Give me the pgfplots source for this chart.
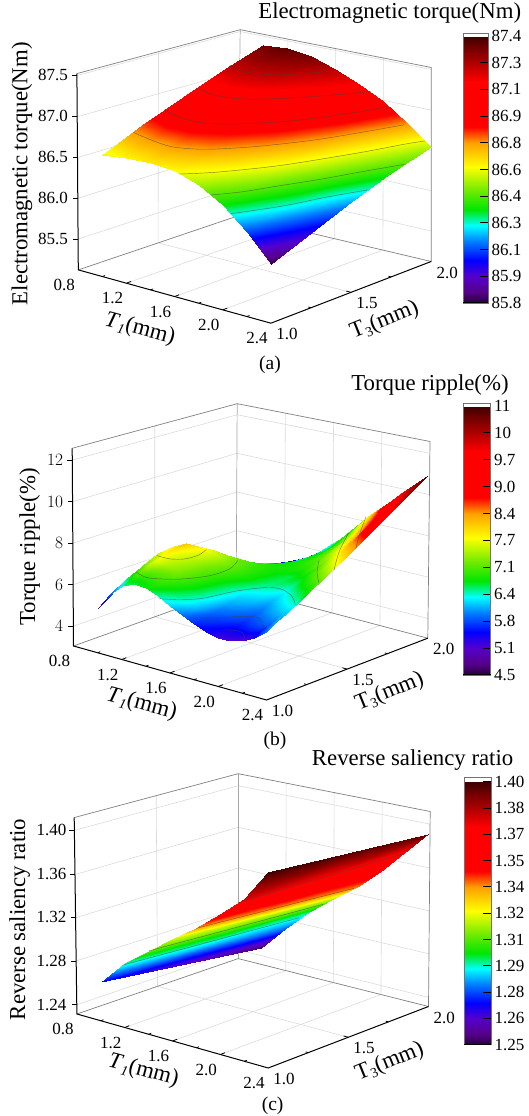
\documentclass[border=0pt]{standalone}
\usepackage{fontspec}
\setmainfont{Liberation Serif}
\usepackage{pgfplots}
\pgfplotsset{compat=1.18}
\usetikzlibrary{calc}
\pgfplotsset{
  colormap={spec}{rgb255(0pt)=(35,0,60); rgb255(4pt)=(85,0,135); rgb255(10pt)=(85,0,205); rgb255(16pt)=(0,0,255); rgb255(23pt)=(0,125,255); rgb255(29pt)=(0,255,255); rgb255(35pt)=(0,230,0); rgb255(42pt)=(110,235,0); rgb255(51pt)=(255,255,0); rgb255(60pt)=(255,160,0); rgb255(66pt)=(255,0,0); rgb255(83pt)=(255,0,0); rgb255(90pt)=(175,0,0); rgb255(96pt)=(110,0,0); rgb255(100pt)=(60,0,0)},
  surfaxis/.style={
    colormap name=spec, axis line style={draw=none}, grid=none, clip=false,
    xmin=0.8,xmax=2.4,ymin=1,ymax=2,
    xtick={0.8,1.2,1.6,2.0,2.4}, xticklabels={0.8,1.2,1.6,2.0,2.4},
    ytick={1,1.5,2}, yticklabels={1.0,1.5,2.0},
    tick label style={font=\fontsize{17}{17}\selectfont},
    major tick length=0pt, minor tick length=0pt,
    tick style={draw=none},
    x tick label style={anchor=center,xshift=-14pt,yshift=-15pt},
    y tick label style={anchor=center,xshift=16pt,yshift=-11pt},
    z tick label style={anchor=east,xshift=-7pt},
  },
  baraxis/.style={
    colormap name=spec, scale only axis, view={0}{90},
    xmin=0,xmax=1,xtick=\empty, axis line style={draw=none},
    ytick pos=right, yticklabel pos=right, tick align=inside,
    major tick length=8pt, tick style={black,line width=0.8pt},
    tick label style={font=\fontsize{17}{17}\selectfont},
  },
  contourline/.style={draw=black!75,opacity=0.65,line width=0.45pt,smooth,tension=0.5,no markers},
}
\newcommand{\tone}{\textit{T}\raisebox{-4pt}{\fontsize{14}{14}\selectfont\itshape 1}(mm)}
\newcommand{\tthree}{T\raisebox{-4pt}{\fontsize{14}{14}\selectfont 3}(mm)}
\newcommand{\bigfont}{\fontsize{22.8}{23}\selectfont}
% walls: L B R F TL TB TR, z fractions
\newcommand{\walls}[8]{%
  \coordinate (L) at #1; \coordinate (B) at #2; \coordinate (R) at #3; \coordinate (F) at #4;
  \coordinate (TL) at #5; \coordinate (TB) at #6; \coordinate (TR) at #7;
  \foreach \t in {#8} {
    \draw[black!14,line width=0.6pt] ($(L)!\t!(TL)$) -- ($(B)!\t!(TB)$) -- ($(R)!\t!(TR)$);
    \draw[black,line width=0.8pt] ($(L)!\t!(TL)$) -- ++(-5,0);
  }
  \draw[black!14,line width=0.6pt] ($(L)!.5!(B)$) -- ($(TL)!.5!(TB)$);
  \foreach \u in {.25,.5,.75} {
    \draw[black!14,line width=0.6pt] ($(B)!\u!(R)$) -- ($(TB)!\u!(TR)$);
    \draw[black!14,line width=0.6pt] ($(L)!\u!(F)$) -- ($(B)!\u!(R)$);
  }
  \draw[black!14,line width=0.6pt] ($(L)!.5!(B)$) -- ($(F)!.5!(R)$);
  \draw[black!35,line width=0.7pt] (B) -- (TB);
  \draw[black!50,line width=0.7pt] (L) -- (B) -- (R) -- (TR) -- (TB) -- (TL);
  \draw[black,line width=1pt] (TL) -- (L) -- (F) -- (R);
  \foreach \u in {.25,.5,.75} { \draw[black,line width=0.8pt] ($(L)!\u!(F)$) -- ++(4.6,-1.8); }
  \foreach \u in {.125,.375,.625,.875} { \draw[black,line width=0.8pt] ($(L)!\u!(F)$) -- ++(2.6,-1); }
  \draw[black,line width=0.8pt] ($(F)!.5!(R)$) -- ++(-4.8,-1.3);
  \foreach \u in {.25,.75} { \draw[black,line width=0.8pt] ($(F)!\u!(R)$) -- ++(-2.7,-.75); }
}
\newcommand{\barframe}[4]{% x0 x1 ytop ybot
  \fill[white] (#1,#3) rectangle (#2,#3+4);
  \draw[black!55,line width=0.8pt] (#1,#3) rectangle (#2,#4);
  \draw[black,line width=1pt] (#1,#4) -- (#2,#4);
}
\begin{document}
\begin{tikzpicture}
\useasboundingbox (0,0) rectangle (529pt,1116pt);
\begin{scope}[x=1pt,y=-1pt,shift={(0pt,1116pt)}]
  \walls{(78.3,269.9)}{(237.9,215.9)}{(431.2,261.5)}{(270.9,323.2)}{(76.9,73.6)}{(240.2,29.7)}{(431.2,67.5)}{0.157,0.365,0.572,0.78,0.99}
  \walls{(73.5,646)}{(236.2,587.6)}{(427.8,638.2)}{(266.5,700)}{(72.2,448.3)}{(237.2,403.7)}{(430,441.5)}{0.1,0.31,0.52,0.73,0.94}
  \walls{(76.9,1014)}{(238.2,958.6)}{(428.5,1006.5)}{(268.2,1068)}{(74.2,817.6)}{(238.2,773.7)}{(430.2,811.5)}{0.047,0.27,0.49,0.71,0.935}
\end{scope}

% ---------- (a)
\begin{axis}[surfaxis, at={(78.3pt,846.1pt)}, anchor=origin,
  x={(120.4pt,-33.3pt)}, y={(160.3pt,61.7pt)}, z={(0pt,82pt)},
  zmin=85.12,zmax=87.52, ztick={85.5,86,86.5,87,87.5}, zticklabels={85.5,86.0,86.5,87.0,87.5},
  point meta min=85.8, point meta max=87.4]
\addplot3[surf,shader=interp,mesh/cols=8,point meta=explicit] table[x=x,y=y,z=z,meta=c] {
x y z c
1.0 1.00 86.60 86.59
1.2 1.00 86.65 86.63
1.4 1.00 86.67 86.65
1.6 1.00 86.65 86.62
1.8 1.00 86.56 86.52
2.0 1.00 86.40 86.36
2.2 1.00 86.15 86.12
2.4 1.00 85.84 85.81
1.0 1.25 86.78 86.81
1.2 1.25 86.83 86.85
1.4 1.25 86.84 86.85
1.6 1.25 86.80 86.80
1.8 1.25 86.70 86.69
2.0 1.25 86.55 86.53
2.2 1.25 86.32 86.30
2.4 1.25 86.03 86.01
1.0 1.50 86.93 87.01
1.2 1.50 86.97 87.04
1.4 1.50 86.98 87.03
1.6 1.50 86.93 86.96
1.8 1.50 86.83 86.85
2.0 1.50 86.68 86.69
2.2 1.50 86.48 86.47
2.4 1.50 86.22 86.20
1.0 1.75 87.08 87.19
1.2 1.75 87.13 87.22
1.4 1.75 87.12 87.19
1.6 1.75 87.05 87.11
1.8 1.75 86.96 87.01
2.0 1.75 86.81 86.84
2.2 1.75 86.62 86.63
2.4 1.75 86.39 86.39
1.0 2.00 87.19 87.33
1.2 2.00 87.23 87.36
1.4 2.00 87.22 87.32
1.6 2.00 87.14 87.23
1.8 2.00 87.04 87.13
2.0 2.00 86.91 86.97
2.2 2.00 86.73 86.77
2.4 2.00 86.52 86.54
};
\addplot3[contourline] coordinates {(2.067,1,86.32)(2.2,1.222,86.30)(2.3,1.42,86.30)(2.4,1.605,86.29)};
\addplot3[contourline] coordinates {(1.9,1,86.48)(2.0,1.118,86.47)(2.1,1.288,86.46)(2.2,1.455,86.45)(2.3,1.65,86.44)(2.4,1.833,86.43)};
\addplot3[contourline] coordinates {(1.64,1,86.63)(1.8,1.118,86.63)(2.0,1.36,86.61)(2.2,1.70,86.59)(2.3,1.905,86.58)(2.35,2,86.57)};
\addplot3[contourline] coordinates {(1.0,1.19,86.74)(1.2,1.148,86.76)(1.4,1.138,86.76)(1.6,1.194,86.77)(1.8,1.36,86.76)(2.0,1.617,86.74)(2.2,1.98,86.72)};
\addplot3[contourline] coordinates {(1.0,1.387,86.86)(1.2,1.342,86.88)(1.4,1.347,86.89)(1.6,1.437,86.90)(1.8,1.61,86.89)(2.0,1.905,86.87)(2.04,2,86.87)};
\addplot3[contourline] coordinates {(1.0,1.587,86.98)(1.2,1.55,87.00)(1.4,1.57,87.02)(1.6,1.687,87.02)(1.8,1.885,87.00)(1.9,2,86.99)};
\addplot3[contourline] coordinates {(1.0,1.795,87.10)(1.2,1.75,87.13)(1.4,1.8,87.14)(1.6,1.98,87.13)};
\end{axis}
\begin{axis}[baraxis, at={(463.3pt,813pt)}, anchor=south west, width=24.7pt, height=267pt,
  ymin=85.8,ymax=87.4, point meta min=85.8, point meta max=87.4,
  ytick={85.8,85.96,86.12,86.28,86.44,86.6,86.76,86.92,87.08,87.24,87.4},
  yticklabels={85.8,85.9,86.1,86.3,86.4,86.6,86.8,86.9,87.1,87.3,87.4}]
\addplot3[surf,shader=interp,mesh/cols=2,point meta=explicit] table[x=x,y=y,z=z,meta=c] {
x y z c
0 85.8 0 85.8
1 85.8 0 85.8
0 87.4 0 87.4
1 87.4 0 87.4
};
\end{axis}

% ---------- (b)
\begin{axis}[surfaxis, at={(73.5pt,470pt)}, anchor=origin,
  x={(120.6pt,-33.75pt)}, y={(161.3pt,61.8pt)}, z={(0pt,20.75pt)},
  zmin=3.055,zmax=12.58, ztick={4,6,8,10,12},
  point meta min=4.5, point meta max=11]
\addplot3[surf,shader=interp,mesh/cols=15,point meta=explicit] table[x=x,y=y,z=z,meta=c] {
x y z c
1.0 1.0 5.22 5.20
1.1 1.0 6.05 5.88
1.2 1.0 6.60 6.55
1.3 1.0 6.84 6.68
1.4 1.0 6.84 6.80
1.5 1.0 6.60 6.53
1.6 1.0 6.27 6.25
1.7 1.0 6.00 5.95
1.8 1.0 5.75 5.65
1.9 1.0 5.54 5.45
2.0 1.0 5.41 5.25
2.1 1.0 5.43 5.15
2.2 1.0 5.58 5.05
2.3 1.0 5.89 5.53
2.4 1.0 6.35 6.00
1.0 1.1 5.71 5.95
1.1 1.1 6.49 6.54
1.2 1.1 6.94 7.13
1.3 1.1 7.02 7.08
1.4 1.1 6.86 7.03
1.5 1.1 6.53 6.72
1.6 1.1 6.17 6.40
1.7 1.1 6.02 6.14
1.8 1.1 5.92 5.88
1.9 1.1 5.72 5.70
2.0 1.1 5.57 5.53
2.1 1.1 5.52 5.53
2.2 1.1 5.67 5.53
2.3 1.1 6.15 5.90
2.4 1.1 6.91 6.28
1.0 1.2 6.11 6.70
1.1 1.2 6.82 7.20
1.2 1.2 7.20 7.70
1.3 1.2 7.19 7.48
1.4 1.2 6.95 7.25
1.5 1.2 6.59 6.90
1.6 1.2 6.24 6.55
1.7 1.2 6.13 6.33
1.8 1.2 6.08 6.10
1.9 1.2 5.91 5.95
2.0 1.2 5.78 5.80
2.1 1.2 5.74 5.90
2.2 1.2 5.92 6.00
2.3 1.2 6.49 6.28
2.4 1.2 7.38 6.55
1.0 1.3 6.46 7.23
1.1 1.3 7.11 7.59
1.2 1.3 7.45 7.95
1.3 1.3 7.44 7.72
1.4 1.3 7.22 7.48
1.5 1.3 6.91 7.15
1.6 1.3 6.58 6.83
1.7 1.3 6.40 6.58
1.8 1.3 6.27 6.33
1.9 1.3 6.13 6.20
2.0 1.3 6.07 6.08
2.1 1.3 6.11 6.24
2.2 1.3 6.35 6.40
2.3 1.3 6.91 6.73
2.4 1.3 7.75 7.05
1.0 1.4 6.63 7.75
1.1 1.4 7.18 7.98
1.2 1.4 7.49 8.20
1.3 1.4 7.51 7.95
1.4 1.4 7.36 7.70
1.5 1.4 7.14 7.40
1.6 1.4 6.87 7.10
1.7 1.4 6.60 6.83
1.8 1.4 6.39 6.55
1.9 1.4 6.33 6.45
2.0 1.4 6.39 6.35
2.1 1.4 6.55 6.58
2.2 1.4 6.87 6.80
2.3 1.4 7.39 7.18
2.4 1.4 8.09 7.55
1.0 1.5 6.48 7.78
1.1 1.5 6.82 7.79
1.2 1.5 7.01 7.80
1.3 1.5 7.02 7.60
1.4 1.5 6.94 7.40
1.5 1.5 6.84 7.20
1.6 1.5 6.69 7.00
1.7 1.5 6.45 6.80
1.8 1.5 6.29 6.60
1.9 1.5 6.41 6.64
2.0 1.5 6.66 6.68
2.1 1.5 6.97 7.02
2.2 1.5 7.38 7.35
2.3 1.5 7.89 7.74
2.4 1.5 8.51 8.13
1.0 1.6 6.11 7.80
1.1 1.6 6.27 7.60
1.2 1.6 6.36 7.40
1.3 1.6 6.37 7.25
1.4 1.6 6.36 7.10
1.5 1.6 6.39 7.00
1.6 1.6 6.40 6.90
1.7 1.6 6.26 6.78
1.8 1.6 6.20 6.65
1.9 1.6 6.49 6.83
2.0 1.6 6.93 7.00
2.1 1.6 7.39 7.45
2.2 1.6 7.90 7.90
2.3 1.6 8.42 8.30
2.4 1.6 8.96 8.70
1.0 1.7 5.51 6.90
1.1 1.7 5.69 7.00
1.2 1.7 5.81 7.10
1.3 1.7 5.86 6.98
1.4 1.7 5.91 6.85
1.5 1.7 6.06 6.83
1.6 1.7 6.21 6.80
1.7 1.7 6.25 6.87
1.8 1.7 6.35 6.93
1.9 1.7 6.71 7.22
2.0 1.7 7.20 7.50
2.1 1.7 7.78 8.03
2.2 1.7 8.39 8.55
2.3 1.7 8.94 8.95
2.4 1.7 9.45 9.35
1.0 1.8 4.87 6.00
1.1 1.8 5.13 6.40
1.2 1.8 5.33 6.80
1.3 1.8 5.44 6.70
1.4 1.8 5.56 6.60
1.5 1.8 5.81 6.65
1.6 1.8 6.10 6.70
1.7 1.8 6.34 6.95
1.8 1.8 6.62 7.20
1.9 1.8 7.04 7.60
2.0 1.8 7.55 8.00
2.1 1.8 8.20 8.60
2.2 1.8 8.86 9.20
2.3 1.8 9.43 9.60
2.4 1.8 9.95 10.00
1.0 1.9 4.43 5.25
1.1 1.9 4.73 5.55
1.2 1.9 4.99 5.85
1.3 1.9 5.17 5.88
1.4 1.9 5.37 5.90
1.5 1.9 5.71 6.10
1.6 1.9 6.11 6.30
1.7 1.9 6.53 6.70
1.8 1.9 6.98 7.10
1.9 1.9 7.48 7.73
2.0 1.9 8.04 8.35
2.1 1.9 8.68 8.98
2.2 1.9 9.33 9.60
2.3 1.9 9.90 10.05
2.4 1.9 10.43 10.50
1.0 2.0 4.11 4.50
1.1 2.0 4.45 4.70
1.2 2.0 4.76 4.90
1.3 2.0 5.03 5.05
1.4 2.0 5.33 5.20
1.5 2.0 5.73 5.55
1.6 2.0 6.22 5.90
1.7 2.0 6.81 6.45
1.8 2.0 7.44 7.00
1.9 2.0 8.06 7.85
2.0 2.0 8.66 8.70
2.1 2.0 9.24 9.35
2.2 2.0 9.80 10.00
2.3 2.0 10.36 10.50
2.4 2.0 10.90 11.00
};
\addplot3[contourline] coordinates {(1.090,1.3,6.99)(1.202,1.3,7.01)(1.328,1.3,7.22)(1.439,1.3,7.59)(1.501,1.3,7.95)};
\addplot3[contourline] coordinates {(0.922,1.3,5.91)(1.020,1.3,5.80)(1.272,1.3,6.15)(1.523,1.3,6.72)(1.691,1.3,7.32)(1.761,1.3,7.84)};
\addplot3[contourline] coordinates {(1.104,1.3,4.93)(1.272,1.3,5.17)(1.467,1.3,5.54)(1.747,1.3,6.35)(1.999,1.3,6.93)(2.125,1.3,7.05)(2.209,1.3,6.86)(2.237,1.3,6.50)};
\addplot3[contourline] coordinates {(1.356,1.3,4.42)(1.579,1.3,4.78)(1.803,1.3,5.22)(1.943,1.3,5.34)(1.985,1.3,4.79)};
\addplot3[contourline] coordinates {(1.635,1.3,4.30)(1.747,1.3,4.45)(1.803,1.3,4.41)(1.817,1.3,4.19)};
\addplot3[contourline] coordinates {(1.898,1.7,6.87)(1.884,1.7,6.28)(1.898,1.7,5.81)};
\addplot3[contourline] coordinates {(2.149,1.7,8.66)(2.065,1.7,7.55)(2.023,1.7,6.59)};
\addplot3[contourline] coordinates {(2.289,1.7,9.62)(2.233,1.7,8.64)(2.205,1.7,7.94)};
\end{axis}
\begin{axis}[baraxis, at={(462.9pt,441pt)}, anchor=south west, width=27.6pt, height=269pt,
  ymin=4.5,ymax=11, point meta min=4.5, point meta max=11,
  ytick={4.5,5.15,5.8,6.45,7.1,7.75,8.4,9.05,9.7,10.35,11},
  yticklabels={4.5,5.1,5.8,6.4,7.1,7.7,8.4,9.0,9.7,10,11}]
\addplot3[surf,shader=interp,mesh/cols=2,point meta=explicit] table[x=x,y=y,z=z,meta=c] {
x y z c
0 4.5 0 4.5
1 4.5 0 4.5
0 11 0 11
1 11 0 11
};
\end{axis}

% ---------- (c)
\begin{axis}[surfaxis, at={(76.9pt,102pt)}, anchor=origin,
  x={(119.4pt,-33.75pt)}, y={(160.3pt,61.5pt)}, z={(0pt,1092pt)},
  zmin=1.2316,zmax=1.4114, ztick={1.24,1.28,1.32,1.36,1.40}, zticklabels={1.24,1.28,1.32,1.36,1.40},
  point meta min=1.25, point meta max=1.40]
\addplot3[surf,shader=interp,mesh/cols=8,point meta=explicit] table[x=x,y=y,z=z,meta=c] {
x y z c
1.0 1.0 1.2674 1.2740
1.2 1.0 1.2903 1.2970
1.4 1.0 1.3079 1.3100
1.6 1.0 1.3246 1.3220
1.8 1.0 1.3410 1.3400
2.0 1.0 1.3604 1.3570
2.2 1.0 1.3805 1.3800
2.4 1.0 1.4108 1.4000
1.0 1.5 1.2548 1.2635
1.2 1.5 1.2778 1.2895
1.4 1.5 1.2974 1.3040
1.6 1.5 1.3150 1.3200
1.8 1.5 1.3317 1.3410
2.0 1.5 1.3515 1.3560
2.2 1.5 1.3731 1.3760
2.4 1.5 1.4002 1.3975
1.0 2.0 1.2421 1.2530
1.2 2.0 1.2653 1.2820
1.4 2.0 1.2869 1.2980
1.6 2.0 1.3054 1.3180
1.8 2.0 1.3224 1.3420
2.0 2.0 1.3425 1.3550
2.2 2.0 1.3657 1.3720
2.4 2.0 1.3895 1.3950
};
\addplot3[contourline] coordinates {(1.18,1,1.2880)(1.32,2,1.2795)};
\addplot3[contourline] coordinates {(1.4,1,1.3079)(1.52,2,1.2980)};
\addplot3[contourline] coordinates {(1.8,1,1.3410)(1.78,2,1.3207)};
\addplot3[contourline] coordinates {(2.14,1,1.3745)(2.2,2,1.3657)};
\end{axis}
\begin{axis}[baraxis, at={(463.9pt,71.3pt)}, anchor=south west, width=27.3pt, height=263pt,
  ymin=1.25,ymax=1.40, point meta min=1.25, point meta max=1.40,
  ytick={1.25,1.265,1.28,1.295,1.31,1.325,1.34,1.355,1.37,1.385,1.40},
  yticklabels={1.25,1.26,1.28,1.29,1.31,1.32,1.34,1.35,1.37,1.38,1.40}]
\addplot3[surf,shader=interp,mesh/cols=2,point meta=explicit] table[x=x,y=y,z=z,meta=c] {
x y z c
0 1.25 0 1.25
1 1.25 0 1.25
0 1.40 0 1.40
1 1.40 0 1.40
};
\end{axis}

\begin{scope}[x=1pt,y=-1pt,shift={(0pt,1116pt)}]
  \barframe{463.3}{488}{33}{303}
  \barframe{462.9}{490.5}{403}{675}
  \barframe{463.9}{491.2}{777}{1044.7}
  % titles
  \node[font=\bigfont] at (389.7,13.5) {Electromagnetic torque(Nm)};
  \node[font=\bigfont] at (430,385) {Torque ripple(\%)};
  \node[font=\bigfont] at (412.6,759.6) {Reverse saliency ratio};
  % z labels
  \node[font=\bigfont,rotate=90] at (22,173.8) {Electromagnetic torque(Nm)};
  \node[font=\bigfont,rotate=90] at (29.7,547) {Torque ripple(\%)};
  \node[font=\bigfont,rotate=90] at (19.6,919.5) {Reverse saliency ratio};
  % T labels
  \node[font=\bigfont,rotate=-15] at (140,329) {\tone};
  \node[font=\bigfont,rotate=22] at (384.6,320.5) {\tthree};
  \node[font=\bigfont,rotate=-15] at (141.7,704) {\tone};
  \node[font=\bigfont,rotate=22] at (389.7,692) {\tthree};
  \node[font=\bigfont,rotate=-15] at (143.4,1070.6) {\tone};
  \node[font=\bigfont,rotate=22] at (389.7,1062) {\tthree};
  % captions
  \node[font=\fontsize{19.5}{19.5}\selectfont] at (270,365) {(a)};
  \node[font=\fontsize{19.5}{19.5}\selectfont] at (275,740.4) {(b)};
  \node[font=\fontsize{19.5}{19.5}\selectfont] at (272.6,1106) {(c)};
\end{scope}
\end{tikzpicture}
\end{document}
